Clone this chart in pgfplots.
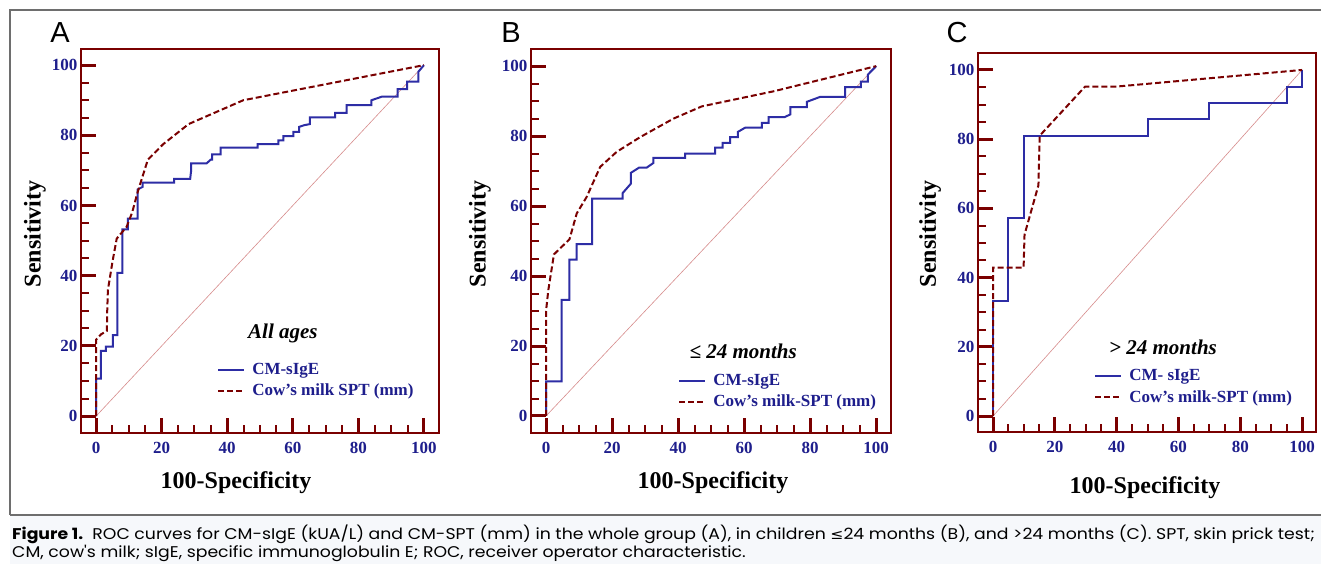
\documentclass[border=0pt]{standalone}
\usepackage{pgfplots}
\pgfplotsset{compat=1.18}
\usepackage{fontspec}
\setmainfont{Liberation Serif}
\newfontfamily\arial{Liberation Sans}
\newfontfamily\pop{Poppins}
\newfontfamily\djv{DejaVu Sans}
\definecolor{navy}{RGB}{30,30,140}
\definecolor{cblue}{RGB}{45,45,165}
\definecolor{maroon}{RGB}{122,0,0}
\definecolor{diag}{RGB}{215,140,140}
\definecolor{capbg}{RGB}{246,248,251}
\definecolor{frm}{RGB}{110,110,110}

\pgfplotsset{
 rocax/.style={
  scale only axis,
  axis line style={maroon, line width=2.5pt},
  tick pos=left,
  tick align=inside,
  xtick={0,20,...,100}, ytick={0,20,...,100},
  minor tick num=3,
  major tick style={maroon, line width=3pt},
  minor tick style={maroon, line width=2pt},
  ticklabel style={font=\bfseries\fontsize{17}{17}\selectfont, text=navy},
  xticklabel style={yshift=-6pt},
  /pgf/number format/assume math mode=true,
  legend cell align=left,
  legend style={draw=none, fill=none, font=\bfseries\fontsize{17}{17}\selectfont, text=navy, row sep=6pt, column sep=6pt, inner sep=0pt, nodes={inner sep=1pt}},
  legend image code/.code={\draw[##1] (0pt,0pt) -- (26pt,0pt);},
 },
 sige/.style={cblue, line width=2pt},
 spt/.style={maroon, line width=2pt, dash pattern=on 6pt off 3pt},
 dg/.style={diag, line width=0.6pt},
}

\begin{document}
\begin{tikzpicture}[x=1pt,y=1pt]
\useasboundingbox (0,0) rectangle (1321,564);
\fill[white] (0,0) rectangle (1321,564);
\fill[capbg] (10,0) rectangle (1321,49);
\draw[frm, line width=1.2pt] (10,49) -- (10,554) -- (1321,554);
\draw[frm, line width=1.5pt] (10,49) -- (1321,49);

% ---------------- Panel A
\begin{axis}[rocax, at={(81pt,131pt)}, anchor=south west, width=358pt, height=384pt,
  major tick length=15pt, minor tick length=8pt,
  xmin=-4.6, xmax=104.6, ymin=-4.8, ymax=104.6,
  legend style={at={(axis cs:36.9,15.4)}, anchor=north west}]
\addplot[dg, forget plot] coordinates {(0,0) (100,100)};
\addplot[sige] coordinates {(0,0) (0,10.7) (1.5,10.7) (1.5,18.6) (3.0,18.6) (3.0,19.8) (5.1,19.8) (5.1,23.1) (6.5,23.1) (6.5,40.8) (8.0,40.8) (8.0,53.2) (9.7,53.2) (9.7,56.3) (12.7,56.3) (12.7,64.6) (14.2,65.3) (14.2,66.5) (23.8,66.5) (23.8,67.6) (28.7,67.6) (29.0,70) (29.0,72.0) (33.7,72.0) (35.0,73.1) (35.4,73.1) (35.4,74.6) (38.0,74.6) (38.0,76.5) (49.3,76.5) (49.3,77.5) (55.6,77.5) (55.6,78.6) (57.1,78.6) (57.1,79.8) (60.2,79.8) (60.2,81.0) (61.9,81.0) (61.9,82.4) (63.5,82.9) (65.2,83.2) (65.2,85.1) (72.9,85.1) (72.9,86.4) (76.4,86.4) (76.4,88.6) (84.0,88.6) (84.0,90.0) (87.1,91.0) (92.0,91.0) (92.0,93.2) (94.9,93.2) (94.9,95.3) (98.3,95.3) (98.3,98.1) (100,100)};
\addlegendentry{CM-sIgE}
\addplot[spt] coordinates {(0,0) (0,21.8) (1.5,23.3) (3.3,24.3) (3.4,30) (3.6,35.9) (5.0,44) (6.3,50.6) (9.3,53.9) (11.0,58) (12.7,63.9) (15.8,73.1) (20.5,77.5) (28.2,83.2) (44.9,90.0) (100,100)};
\addlegendentry{Cow’s milk SPT (mm)}
\node[font=\bfseries\itshape\fontsize{21}{21}\selectfont] at (axis cs:57,23.6) {All ages};
\end{axis}

% ---------------- Panel B
\begin{axis}[rocax, at={(531pt,131pt)}, anchor=south west, width=360pt, height=384pt,
  major tick length=15pt, minor tick length=8pt,
  xmin=-4.55, xmax=104.5, ymin=-4.86, ymax=104.9,
  legend style={at={(axis cs:40.0,12.3)}, anchor=north west}]
\addplot[dg, forget plot] coordinates {(0,0) (100,100)};
\addplot[sige] coordinates {(0,0) (0,9.9) (4.7,9.9) (4.7,33.2) (7.1,33.2) (7.1,44.7) (9.3,44.7) (9.3,49.1) (14.0,49.1) (14.0,62.1) (23.2,62.1) (23.2,63.7) (25.7,66.4) (25.7,69.5) (28.2,71.0) (30.5,71.0) (32.5,72.3) (32.5,73.8) (42.1,73.8) (42.1,75.0) (51.2,75.0) (51.2,76.7) (53.5,76.7) (53.5,78.1) (55.8,78.1) (55.8,79.7) (58.1,79.7) (58.1,81.2) (60.3,82.4) (65.4,82.4) (65.4,83.8) (67.4,83.8) (67.4,85.4) (72.2,85.4) (74.0,86.2) (74.0,88.3) (79.0,88.3) (79.0,89.8) (83.0,91.2) (90.6,91.2) (90.6,94.0) (95.4,94.0) (95.4,95.6) (97.5,95.6) (97.5,97.6) (99.7,99.7) (100,100)};
\addlegendentry{CM-sIgE}
\addplot[spt] coordinates {(0,0) (0,30) (0.7,36.0) (1.2,39) (2.4,46.2) (7.1,50.5) (9.3,57.9) (12.3,62.6) (16.4,71.2) (21.4,75.5) (28.5,79.7) (38.6,85.0) (47.2,88.5) (68.9,92.8) (100,100)};
\addlegendentry{Cow’s milk-SPT (mm)}
\node[font=\bfseries\itshape\fontsize{21}{21}\selectfont] at (axis cs:59.7,18.6) {≤ 24 months};
\end{axis}

% ---------------- Panel C
\begin{axis}[rocax, at={(978pt,132pt)}, anchor=south west, width=338pt, height=379pt,
  major tick length=15pt, minor tick length=8pt,
  xmin=-4.85, xmax=104.5, ymin=-4.6, ymax=104.9,
  legend style={at={(axis cs:32.7,13.8)}, anchor=north west}]
\addplot[dg, forget plot] coordinates {(0,0) (100,100)};
\addplot[sige] coordinates {(0,0) (0,33.3) (5.0,33.3) (5.0,57.1) (9.9,57.1) (9.9,81.0) (50.0,81.0) (50.0,85.7) (70.0,85.7) (70.0,90.5) (95.0,90.5) (95.0,95.2) (100,95.2) (100,100)};
\addlegendentry{CM- sIgE}
\addplot[spt] coordinates {(0,0) (0,42.9) (9.9,42.9) (10.2,52.4) (14.7,66.7) (15.1,81.0) (29.8,95.2) (40.0,95.2) (100,100)};
\addlegendentry{Cow’s milk-SPT (mm)}
\node[font=\bfseries\itshape\fontsize{21}{21}\selectfont] at (axis cs:55.0,19.9) {> 24 months};
\end{axis}

% axis titles and panel letters
\foreach \px/\py in {236/81, 713/81, 1145/76}
  \node[font=\bfseries\fontsize{24}{24}\selectfont] at (\px,\py) {100-Specificity};
\foreach \px in {35, 480, 930}
  \node[font=\bfseries\fontsize{24}{24}\selectfont, rotate=90] at (\px,330) {Sensitivity};
\node[font=\arial\fontsize{29}{29}\selectfont] at (60,531) {A};
\node[font=\arial\fontsize{29}{29}\selectfont] at (511,531) {B};
\node[font=\arial\fontsize{29}{29}\selectfont] at (957,531) {C};

% caption
\node[anchor=base west, inner sep=0pt, font=\pop\fontsize{15.5}{15.5}\selectfont] at (12,24)
 {\scalebox{1.115}[1]{\textbf{Figure 1.}\ \ ROC curves for CM-sIgE (kUA/L) and CM-SPT (mm) in the whole group (A), in children {\djv\fontsize{14}{14}\selectfont ≤}24 months (B), and >24 months (C). SPT, skin prick test;}};
\node[anchor=base west, inner sep=0pt, font=\pop\fontsize{15.5}{15.5}\selectfont] at (12,6)
 {\scalebox{1.115}[1]{CM, cow's milk; sIgE, specific immunoglobulin E; ROC, receiver operator characteristic.}};
\end{tikzpicture}
\end{document}
